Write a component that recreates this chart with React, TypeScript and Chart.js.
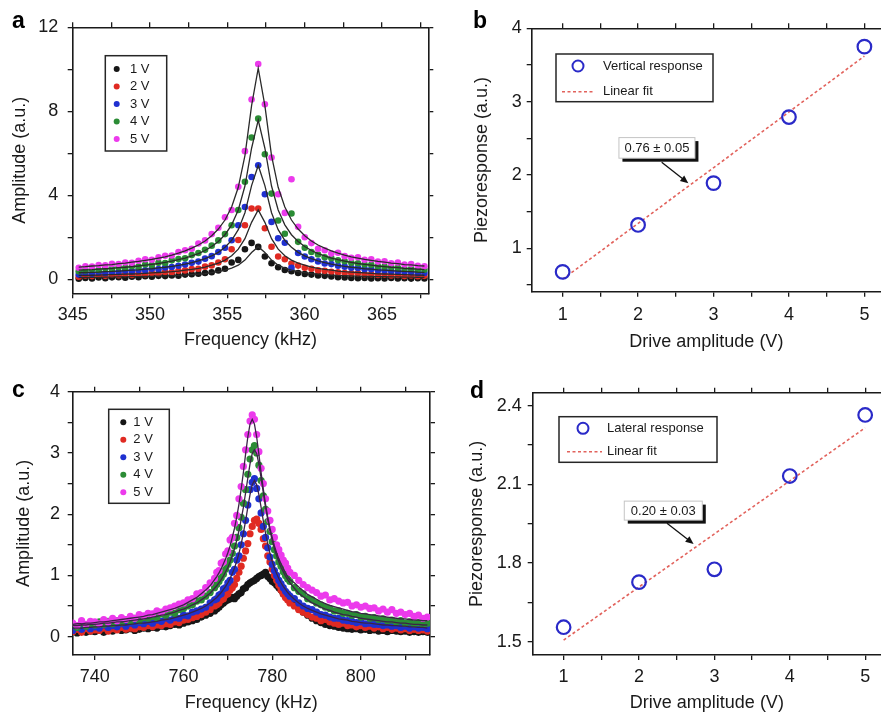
import React, { useEffect, useRef } from "react";
import { Chart, registerables } from "chart.js";

Chart.register(...registerables);

const FONT = "'Liberation Sans', Arial, Helvetica, sans-serif";
Chart.defaults.font.family = FONT;

const INK = "#1a1a1a";
const C_BLACK = "#161616";
const C_RED = "#e02a22";
const C_BLUE = "#1f30d0";
const C_GREEN = "#2b8c35";
const C_MAGENTA = "#ec3aec";
const C_CIRCLE = "#2a2ac8";
const C_FIT = "#e2625c";

// ---------------- Panel a: resonance near 357 kHz ----------------
const freqA = [345.39, 345.82, 346.25, 346.68, 347.11, 347.54, 347.97, 348.40, 348.83, 349.26, 349.69, 350.12, 350.55, 350.98, 351.41, 351.84, 352.27, 352.70, 353.13, 353.56, 353.99, 354.42, 354.85, 355.28, 355.71, 356.14, 356.57, 357.00, 357.43, 357.86, 358.29, 358.72, 359.15, 359.58, 360.01, 360.44, 360.87, 361.30, 361.73, 362.16, 362.59, 363.02, 363.45, 363.88, 364.31, 364.74, 365.17, 365.60, 366.03, 366.46, 366.89, 367.32, 367.75];

const ampA5V = [0.55, 0.62, 0.60, 0.68, 0.66, 0.73, 0.72, 0.80, 0.78, 0.88, 0.95, 0.93, 1.05, 1.12, 1.13, 1.30, 1.38, 1.45, 1.70, 1.85, 2.15, 2.45, 2.95, 3.30, 4.40, 6.10, 8.56, 10.25, 8.33, 5.80, 4.05, 3.16, 4.76, 2.50, 2.00, 1.72, 1.45, 1.38, 1.22, 1.26, 1.10, 1.02, 1.05, 0.93, 0.95, 0.84, 0.86, 0.76, 0.80, 0.70, 0.72, 0.64, 0.62];
const ampA4V = [0.38, 0.42, 0.47, 0.44, 0.52, 0.50, 0.57, 0.55, 0.62, 0.60, 0.70, 0.68, 0.78, 0.77, 0.90, 0.96, 1.00, 1.15, 1.25, 1.40, 1.60, 1.85, 2.15, 2.57, 3.30, 4.64, 6.75, 7.65, 5.95, 4.08, 2.80, 2.17, 3.13, 1.78, 1.50, 1.30, 1.18, 1.05, 1.00, 0.90, 0.86, 0.78, 0.76, 0.70, 0.69, 0.62, 0.60, 0.58, 0.55, 0.50, 0.50, 0.46, 0.45];
const ampA3V = [0.22, 0.30, 0.26, 0.33, 0.30, 0.36, 0.34, 0.40, 0.38, 0.44, 0.42, 0.50, 0.48, 0.56, 0.58, 0.64, 0.70, 0.78, 0.84, 0.98, 1.10, 1.30, 1.50, 1.86, 2.57, 3.44, 4.87, 5.43, 4.05, 2.73, 1.95, 1.74, 0.55, 1.25, 1.08, 0.95, 0.85, 0.75, 0.72, 0.64, 0.60, 0.55, 0.54, 0.48, 0.47, 0.42, 0.42, 0.38, 0.37, 0.34, 0.34, 0.30, 0.30];
const ampA2V = [0.12, 0.18, 0.15, 0.20, 0.16, 0.22, 0.19, 0.25, 0.20, 0.27, 0.24, 0.30, 0.28, 0.35, 0.33, 0.40, 0.42, 0.48, 0.50, 0.60, 0.66, 0.80, 0.95, 1.43, 1.87, 2.57, 3.37, 3.37, 2.43, 1.55, 1.08, 0.95, 0.75, 0.65, 0.55, 0.50, 0.42, 0.40, 0.36, 0.33, 0.30, 0.28, 0.28, 0.24, 0.24, 0.20, 0.22, 0.18, 0.20, 0.15, 0.18, 0.14, 0.16];
const ampA1V = [0.02, 0.06, 0.04, 0.08, 0.05, 0.09, 0.10, 0.07, 0.12, 0.10, 0.14, 0.12, 0.16, 0.15, 0.18, 0.17, 0.22, 0.24, 0.26, 0.30, 0.33, 0.42, 0.50, 0.80, 0.92, 1.43, 1.73, 1.54, 1.08, 0.76, 0.57, 0.44, 0.38, 0.30, 0.25, 0.22, 0.18, 0.16, 0.13, 0.10, 0.08, 0.06, 0.05, 0.06, 0.04, 0.05, 0.04, 0.06, 0.04, 0.05, 0.03, 0.05, 0.04];

const fitA5V = [0.58, 0.60, 0.63, 0.65, 0.68, 0.70, 0.74, 0.77, 0.81, 0.85, 0.90, 0.95, 1.01, 1.07, 1.15, 1.24, 1.35, 1.48, 1.63, 1.82, 2.07, 2.39, 2.82, 3.44, 4.38, 5.89, 8.27, 10.05, 8.27, 5.89, 4.38, 3.44, 2.82, 2.39, 2.07, 1.82, 1.63, 1.48, 1.35, 1.24, 1.15, 1.07, 1.01, 0.95, 0.90, 0.85, 0.81, 0.77, 0.74, 0.70, 0.68, 0.65, 0.63];
const fitA4V = [0.43, 0.45, 0.46, 0.48, 0.50, 0.52, 0.55, 0.57, 0.60, 0.63, 0.67, 0.71, 0.75, 0.80, 0.86, 0.93, 1.01, 1.11, 1.22, 1.37, 1.56, 1.80, 2.12, 2.59, 3.30, 4.44, 6.24, 7.58, 6.24, 4.44, 3.30, 2.59, 2.12, 1.80, 1.56, 1.37, 1.22, 1.11, 1.01, 0.93, 0.86, 0.80, 0.75, 0.71, 0.67, 0.63, 0.60, 0.57, 0.55, 0.52, 0.50, 0.48, 0.46];
const fitA3V = [0.31, 0.32, 0.33, 0.34, 0.36, 0.37, 0.39, 0.41, 0.43, 0.45, 0.48, 0.50, 0.54, 0.57, 0.61, 0.66, 0.72, 0.79, 0.87, 0.98, 1.11, 1.28, 1.52, 1.85, 2.36, 3.17, 4.46, 5.42, 4.46, 3.17, 2.36, 1.85, 1.52, 1.28, 1.11, 0.98, 0.87, 0.79, 0.72, 0.66, 0.61, 0.57, 0.54, 0.50, 0.48, 0.45, 0.43, 0.41, 0.39, 0.37, 0.36, 0.34, 0.33];
const fitA2V = [0.18, 0.18, 0.19, 0.20, 0.21, 0.22, 0.23, 0.24, 0.25, 0.26, 0.28, 0.30, 0.32, 0.34, 0.36, 0.39, 0.43, 0.47, 0.52, 0.58, 0.67, 0.77, 0.91, 1.12, 1.43, 1.93, 2.71, 3.30, 2.71, 1.93, 1.43, 1.12, 0.91, 0.77, 0.67, 0.58, 0.52, 0.47, 0.43, 0.39, 0.36, 0.34, 0.32, 0.30, 0.28, 0.26, 0.25, 0.24, 0.23, 0.22, 0.21, 0.20, 0.19];
const fitA1V = [0.08, 0.09, 0.09, 0.09, 0.10, 0.10, 0.11, 0.11, 0.12, 0.12, 0.13, 0.14, 0.15, 0.16, 0.17, 0.18, 0.20, 0.22, 0.24, 0.27, 0.31, 0.36, 0.43, 0.53, 0.67, 0.91, 1.27, 1.55, 1.27, 0.91, 0.67, 0.53, 0.43, 0.36, 0.31, 0.27, 0.24, 0.22, 0.20, 0.18, 0.17, 0.16, 0.15, 0.14, 0.13, 0.12, 0.12, 0.11, 0.11, 0.10, 0.10, 0.09, 0.09];

// ---------------- Panel c: resonance near 776 kHz ----------------
const freqC = [735, 736, 737, 738, 739, 740, 741, 742, 743, 744, 745, 746, 747, 748, 749, 750, 751, 752, 753, 754, 755, 756, 757, 758, 759, 760, 761, 762, 763, 764, 765, 766, 767,
  767.5, 768, 768.5, 769, 769.5, 770, 770.5, 771, 771.5, 772, 772.5, 773, 773.5, 774, 774.5, 775, 775.5, 776, 776.5, 777, 777.5, 778, 778.5, 779, 779.5, 780, 780.5, 781, 781.5, 782, 782.5, 783, 783.5, 784,
  785, 786, 787, 788, 789, 790, 791, 792, 793, 794, 795, 796, 797, 798, 799, 800, 801, 802, 803, 804, 805, 806, 807, 808, 809, 810, 811, 812, 813, 814, 815];

const ampC5V = [0.22, 0.18, 0.26, 0.20, 0.25, 0.24, 0.21, 0.28, 0.24, 0.30, 0.26, 0.31, 0.28, 0.33, 0.30, 0.36, 0.34, 0.38, 0.37, 0.42, 0.40, 0.45, 0.47, 0.50, 0.53, 0.55, 0.60, 0.62, 0.70, 0.72, 0.80, 0.88, 0.95,
  1.05, 1.08, 1.20, 1.22, 1.35, 1.40, 1.58, 1.62, 1.85, 1.98, 2.25, 2.45, 2.78, 3.05, 3.30, 3.52, 3.62, 3.55, 3.30, 3.02, 2.75, 2.50, 2.25, 2.05, 1.90, 1.75, 1.62, 1.50, 1.42, 1.33, 1.25, 1.20, 1.12, 1.05,
  1.00, 0.92, 0.85, 0.80, 0.76, 0.72, 0.66, 0.68, 0.60, 0.62, 0.58, 0.55, 0.56, 0.50, 0.52, 0.48, 0.50, 0.46, 0.47, 0.42, 0.45, 0.40, 0.44, 0.38, 0.40, 0.36, 0.38, 0.33, 0.35, 0.30, 0.32];
const ampC4V = [0.20, 0.15, 0.22, 0.17, 0.21, 0.19, 0.24, 0.20, 0.25, 0.21, 0.26, 0.23, 0.28, 0.25, 0.30, 0.26, 0.31, 0.30, 0.33, 0.31, 0.37, 0.35, 0.40, 0.38, 0.44, 0.46, 0.50, 0.52, 0.58, 0.60, 0.66, 0.72, 0.80,
  0.85, 0.90, 0.96, 1.02, 1.10, 1.18, 1.25, 1.36, 1.48, 1.62, 1.78, 1.95, 2.18, 2.40, 2.65, 2.90, 3.05, 3.12, 3.00, 2.80, 2.55, 2.30, 2.08, 1.88, 1.72, 1.55, 1.42, 1.32, 1.22, 1.15, 1.06, 1.00, 0.94, 0.90,
  0.80, 0.74, 0.70, 0.62, 0.60, 0.55, 0.52, 0.48, 0.46, 0.42, 0.42, 0.38, 0.38, 0.35, 0.36, 0.32, 0.33, 0.30, 0.31, 0.28, 0.29, 0.26, 0.27, 0.24, 0.26, 0.22, 0.24, 0.21, 0.23, 0.20, 0.22];
const ampC3V = [0.10, 0.15, 0.12, 0.17, 0.13, 0.16, 0.14, 0.19, 0.15, 0.18, 0.16, 0.21, 0.17, 0.22, 0.19, 0.23, 0.21, 0.25, 0.22, 0.27, 0.25, 0.30, 0.27, 0.31, 0.30, 0.35, 0.34, 0.40, 0.42, 0.45, 0.48, 0.55, 0.60,
  0.62, 0.68, 0.70, 0.78, 0.80, 0.88, 0.92, 1.05, 1.10, 1.25, 1.32, 1.50, 1.68, 1.90, 2.15, 2.40, 2.52, 2.58, 2.42, 2.25, 2.02, 1.80, 1.62, 1.45, 1.30, 1.18, 1.08, 1.00, 0.92, 0.86, 0.80, 0.74, 0.70, 0.66,
  0.62, 0.55, 0.50, 0.46, 0.44, 0.40, 0.36, 0.35, 0.32, 0.30, 0.30, 0.27, 0.26, 0.25, 0.23, 0.24, 0.21, 0.22, 0.20, 0.20, 0.18, 0.19, 0.17, 0.18, 0.15, 0.17, 0.14, 0.16, 0.14, 0.15, 0.13];
const ampC2V = [0.08, 0.12, 0.07, 0.13, 0.09, 0.11, 0.10, 0.14, 0.09, 0.13, 0.11, 0.15, 0.12, 0.14, 0.13, 0.16, 0.15, 0.18, 0.16, 0.19, 0.18, 0.21, 0.20, 0.24, 0.23, 0.27, 0.28, 0.31, 0.33, 0.36, 0.40, 0.44, 0.50,
  0.52, 0.55, 0.60, 0.62, 0.68, 0.70, 0.76, 0.80, 0.85, 0.95, 1.05, 1.15, 1.28, 1.40, 1.52, 1.68, 1.80, 1.90, 1.92, 1.85, 1.75, 1.60, 1.48, 1.32, 1.22, 1.10, 1.00, 0.92, 0.84, 0.76, 0.70, 0.64, 0.60, 0.55,
  0.50, 0.44, 0.40, 0.36, 0.32, 0.30, 0.26, 0.28, 0.24, 0.22, 0.20, 0.22, 0.18, 0.19, 0.16, 0.18, 0.15, 0.17, 0.14, 0.16, 0.13, 0.15, 0.12, 0.14, 0.11, 0.13, 0.10, 0.12, 0.10, 0.11, 0.09];
const ampC1V = [0.08, 0.06, 0.10, 0.07, 0.09, 0.08, 0.11, 0.07, 0.10, 0.09, 0.12, 0.10, 0.11, 0.13, 0.10, 0.12, 0.14, 0.13, 0.15, 0.14, 0.17, 0.16, 0.18, 0.20, 0.19, 0.22, 0.24, 0.26, 0.28, 0.32, 0.35, 0.38, 0.42,
  0.45, 0.48, 0.52, 0.55, 0.58, 0.60, 0.62, 0.64, 0.62, 0.66, 0.70, 0.72, 0.78, 0.80, 0.85, 0.88, 0.90, 0.92, 0.95, 0.98, 1.00, 1.02, 1.05, 0.98, 0.95, 0.90, 0.88, 0.84, 0.80, 0.76, 0.70, 0.66, 0.62, 0.58,
  0.52, 0.46, 0.40, 0.35, 0.30, 0.26, 0.23, 0.20, 0.18, 0.17, 0.15, 0.14, 0.13, 0.12, 0.13, 0.11, 0.12, 0.10, 0.11, 0.09, 0.10, 0.08, 0.10, 0.09, 0.08, 0.09, 0.07, 0.08, 0.07, 0.08, 0.07];

const fitC5V = [0.20, 0.21, 0.21, 0.22, 0.22, 0.23, 0.24, 0.24, 0.25, 0.26, 0.27, 0.28, 0.29, 0.30, 0.31, 0.32, 0.33, 0.35, 0.36, 0.38, 0.40, 0.42, 0.44, 0.46, 0.49, 0.52, 0.56, 0.60, 0.64, 0.70, 0.76, 0.83, 0.93,
  0.98, 1.04, 1.11, 1.19, 1.27, 1.37, 1.48, 1.62, 1.77, 1.95, 2.16, 2.41, 2.68, 2.98, 3.26, 3.47, 3.55, 3.47, 3.26, 2.98, 2.68, 2.41, 2.16, 1.95, 1.77, 1.62, 1.48, 1.37, 1.27, 1.19, 1.11, 1.04, 0.98, 0.93,
  0.88, 0.81, 0.75, 0.69, 0.65, 0.61, 0.57, 0.54, 0.51, 0.49, 0.47, 0.45, 0.43, 0.41, 0.40, 0.38, 0.37, 0.36, 0.35, 0.34, 0.33, 0.32, 0.31, 0.30, 0.29, 0.29, 0.28, 0.27, 0.27, 0.26, 0.26];
const fitC4V = [0.18, 0.18, 0.19, 0.19, 0.20, 0.20, 0.21, 0.22, 0.22, 0.23, 0.24, 0.24, 0.25, 0.26, 0.27, 0.28, 0.29, 0.30, 0.32, 0.33, 0.35, 0.36, 0.38, 0.40, 0.43, 0.45, 0.48, 0.52, 0.55, 0.60, 0.65, 0.71, 0.79,
  0.83, 0.88, 0.93, 0.99, 1.06, 1.13, 1.22, 1.32, 1.44, 1.57, 1.73, 1.91, 2.11, 2.35, 2.59, 2.82, 2.99, 3.05, 2.99, 2.82, 2.59, 2.35, 2.11, 1.91, 1.73, 1.57, 1.44, 1.32, 1.22, 1.13, 1.06, 0.99, 0.93, 0.88,
  0.79, 0.71, 0.65, 0.60, 0.55, 0.52, 0.48, 0.45, 0.43, 0.40, 0.38, 0.36, 0.35, 0.33, 0.32, 0.30, 0.29, 0.28, 0.27, 0.26, 0.25, 0.24, 0.24, 0.23, 0.22, 0.22, 0.21, 0.20, 0.20, 0.19, 0.19];
const fitC3V = [0.14, 0.14, 0.14, 0.15, 0.15, 0.16, 0.16, 0.17, 0.17, 0.18, 0.18, 0.19, 0.19, 0.20, 0.21, 0.22, 0.22, 0.23, 0.24, 0.25, 0.27, 0.28, 0.29, 0.31, 0.33, 0.35, 0.37, 0.40, 0.43, 0.46, 0.50, 0.55, 0.61,
  0.64, 0.68, 0.72, 0.77, 0.82, 0.88, 0.95, 1.03, 1.12, 1.23, 1.36, 1.51, 1.69, 1.89, 2.11, 2.32, 2.48, 2.55, 2.48, 2.32, 2.11, 1.89, 1.69, 1.51, 1.36, 1.23, 1.12, 1.03, 0.95, 0.88, 0.82, 0.77, 0.72, 0.68,
  0.61, 0.55, 0.50, 0.46, 0.43, 0.40, 0.37, 0.35, 0.33, 0.31, 0.29, 0.28, 0.27, 0.25, 0.24, 0.23, 0.22, 0.22, 0.21, 0.20, 0.19, 0.19, 0.18, 0.18, 0.17, 0.17, 0.16, 0.16, 0.15, 0.15, 0.14];

// ---------------- Panels b and d ----------------
const driveV = [1, 2, 3, 4, 5];
const verticalResp = [0.68, 1.32, 1.89, 2.79, 3.75];
const lateralResp = [1.555, 1.727, 1.776, 2.132, 2.365];
const fitDrive = [1, 5];
const verticalFit = [0.58, 3.62];
const lateralFit = [1.506, 2.316];

const seriesLabels = ["1 V", "2 V", "3 V", "4 V", "5 V"];
const seriesColors = [C_BLACK, C_RED, C_BLUE, C_GREEN, C_MAGENTA];

function pts(xs: number[], ys: number[]) {
  return xs.map((x, i) => ({ x, y: ys[i] }));
}

type AxisSpec = { min: number; max: number; step: number; label: (v: number) => string; title: string };
type FrameSpec = {
  left: number; top: number; right: number; bottom: number;
  yTitlePad: number; yTickPad: number; xTickPad: number; xTitlePad: number; rightAxis: boolean;
};

function buildScales(x: AxisSpec, y: AxisSpec, f: FrameSpec) {
  const grid = { display: true, drawOnChartArea: false, drawTicks: true, tickLength: 5, color: INK, lineWidth: 1.3 };
  const border = { display: true, color: INK, width: 1.6 };
  const font = { family: FONT, size: 18 };
  const scales: any = {
    x: {
      type: "linear", position: "bottom", min: x.min, max: x.max, grid, border,
      ticks: { stepSize: x.step, includeBounds: false, autoSkip: false, maxRotation: 0, minRotation: 0, color: INK, font, padding: f.xTickPad, callback: (v: any) => x.label(Number(v)) },
      title: { display: true, text: x.title, color: INK, font, padding: { top: 0, bottom: f.xTitlePad } },
      afterFit: (s: any) => { s.height = f.bottom; },
    },
    y: {
      type: "linear", position: "left", min: y.min, max: y.max, grid, border,
      ticks: { stepSize: y.step, includeBounds: false, autoSkip: false, color: INK, font, padding: f.yTickPad, callback: (v: any) => y.label(Number(v)) },
      title: { display: true, text: y.title, color: INK, font, padding: { top: f.yTitlePad, bottom: 0 } },
      afterFit: (s: any) => { s.width = f.left; },
    },
    x2: {
      type: "linear", position: "top", min: x.min, max: x.max, grid, border,
      ticks: { display: false, stepSize: x.step, includeBounds: false, autoSkip: false },
      afterFit: (s: any) => { s.height = f.top; },
    },
  };
  if (f.rightAxis) {
    scales.y2 = {
      type: "linear", position: "right", min: y.min, max: y.max, grid, border,
      ticks: { display: false, stepSize: y.step, includeBounds: false, autoSkip: false },
      afterFit: (s: any) => { s.width = f.right; },
    };
  }
  return scales;
}

type DotLegend = { kind: "dots"; x: number; y: number; w: number; h: number; row0: number; step: number; dotX: number; textX: number };
type FitLegend = { kind: "fit"; x: number; y: number; w: number; h: number; markerX: number; row1: number; row2: number; lineX1: number; lineX2: number; textX: number };
type Note = { text: string; cx: number; cy: number; w: number; h: number; fx: number; fy: number; tx: number; ty: number };

function makeDecor(letter: { t: string; x: number; y: number }, legend: DotLegend | FitLegend, note?: Note) {
  return {
    id: "decor",
    afterDraw(chart: any) {
      const ctx: CanvasRenderingContext2D = chart.ctx;
      const ds = chart.data.datasets;
      ctx.save();
      ctx.font = `bold 23px ${FONT}`;
      ctx.fillStyle = "#000";
      ctx.textAlign = "left";
      ctx.textBaseline = "alphabetic";
      ctx.fillText(letter.t, letter.x, letter.y);

      ctx.fillStyle = "#fff";
      ctx.fillRect(legend.x, legend.y, legend.w, legend.h);
      ctx.strokeStyle = "#262626";
      ctx.lineWidth = 1.5;
      ctx.strokeRect(legend.x, legend.y, legend.w, legend.h);
      ctx.font = `13px ${FONT}`;
      ctx.textBaseline = "middle";
      if (legend.kind === "dots") {
        seriesLabels.forEach((lab, i) => {
          const d = ds.find((q: any) => q.label === lab);
          const yy = legend.row0 + i * legend.step;
          ctx.fillStyle = d ? d.backgroundColor : "#000";
          ctx.beginPath();
          ctx.arc(legend.dotX, yy, 3, 0, Math.PI * 2);
          ctx.fill();
          ctx.fillStyle = INK;
          ctx.fillText(lab, legend.textX, yy);
        });
      } else {
        const circ = ds.find((q: any) => !q.showLine);
        const line = ds.find((q: any) => q.showLine);
        ctx.strokeStyle = circ.pointBorderColor;
        ctx.lineWidth = 2;
        ctx.beginPath();
        ctx.arc(legend.markerX, legend.row1, 5.5, 0, Math.PI * 2);
        ctx.stroke();
        ctx.fillStyle = INK;
        ctx.fillText(circ.label, legend.textX, legend.row1);
        ctx.strokeStyle = line.borderColor;
        ctx.lineWidth = 1.6;
        ctx.setLineDash(line.borderDash);
        ctx.beginPath();
        ctx.moveTo(legend.lineX1, legend.row2);
        ctx.lineTo(legend.lineX2, legend.row2);
        ctx.stroke();
        ctx.setLineDash([]);
        ctx.fillText(line.label, legend.textX, legend.row2);
      }

      if (note) {
        const xs = chart.scales.x;
        const ys = chart.scales.y;
        const cx = xs.getPixelForValue(note.cx);
        const cy = ys.getPixelForValue(note.cy);
        const bx = cx - note.w / 2;
        const by = cy - note.h / 2;
        ctx.fillStyle = "#111";
        ctx.fillRect(bx + 3.5, by + 3.5, note.w, note.h);
        ctx.fillStyle = "#fff";
        ctx.fillRect(bx, by, note.w, note.h);
        ctx.strokeStyle = "#c4c4c4";
        ctx.lineWidth = 1;
        ctx.strokeRect(bx, by, note.w, note.h);
        ctx.fillStyle = INK;
        ctx.textAlign = "center";
        ctx.fillText(note.text, cx, cy + 0.5);
        const x1 = xs.getPixelForValue(note.fx);
        const y1 = ys.getPixelForValue(note.fy);
        const x2 = xs.getPixelForValue(note.tx);
        const y2 = ys.getPixelForValue(note.ty);
        const ang = Math.atan2(y2 - y1, x2 - x1);
        ctx.strokeStyle = "#111";
        ctx.lineWidth = 1.3;
        ctx.beginPath();
        ctx.moveTo(x1, y1);
        ctx.lineTo(x2 - 6 * Math.cos(ang), y2 - 6 * Math.sin(ang));
        ctx.stroke();
        ctx.fillStyle = "#111";
        ctx.beginPath();
        ctx.moveTo(x2, y2);
        ctx.lineTo(x2 - 8 * Math.cos(ang) + 3.5 * Math.sin(ang), y2 - 8 * Math.sin(ang) - 3.5 * Math.cos(ang));
        ctx.lineTo(x2 - 8 * Math.cos(ang) - 3.5 * Math.sin(ang), y2 - 8 * Math.sin(ang) + 3.5 * Math.cos(ang));
        ctx.closePath();
        ctx.fill();
      }
      ctx.restore();
    },
  };
}

function baseOptions(scales: any) {
  return {
    responsive: false,
    animation: false as const,
    devicePixelRatio: 1,
    events: [] as any[],
    layout: { autoPadding: false, padding: 0 },
    plugins: { legend: { display: false }, tooltip: { enabled: false }, title: { display: false } },
    scales,
  };
}

function resonanceDatasets(freq: number[], amps: number[][], fits: number[][], fitColor: string, radius: number) {
  const fitSets = fits.map((f) => ({
    label: "", data: pts(freq, f), showLine: true, borderColor: fitColor, borderWidth: 1.3,
    pointRadius: 0, tension: 0, fill: false,
  }));
  // draw 5 V on top, 1 V at the bottom
  const dotSets = [4, 3, 2, 1, 0].map((i) => ({
    label: seriesLabels[i], data: pts(freq, amps[i]), showLine: false,
    backgroundColor: seriesColors[i], borderColor: seriesColors[i],
    pointRadius: radius, pointBorderWidth: 0, pointHoverRadius: radius,
  }));
  return [...fitSets, ...dotSets];
}

function configA() {
  const scales = buildScales(
    { min: 345, max: 368, step: 2.5, label: (v) => (Math.abs(v % 5) < 1e-6 ? String(v) : ""), title: "Frequency (kHz)" },
    { min: -0.67, max: 12, step: 2, label: (v) => (Math.abs(v % 4) < 1e-6 ? String(v) : ""), title: "Amplitude (a.u.)" },
    { left: 72.7, top: 27.3, right: 11.7, bottom: 66.7, yTitlePad: 9.2, yTickPad: 9.4, xTickPad: 5.9, xTitlePad: 9.2, rightAxis: true }
  );
  return {
    type: "scatter",
    data: {
      datasets: resonanceDatasets(freqA, [ampA1V, ampA2V, ampA3V, ampA4V, ampA5V], [fitA5V, fitA4V, fitA3V, fitA2V, fitA1V], "#2a2a2a", 3.3),
    },
    options: baseOptions(scales),
    plugins: [makeDecor({ t: "a", x: 12, y: 28 }, { kind: "dots", x: 105.3, y: 55.7, w: 61.4, h: 95.3, row0: 69, step: 17.5, dotX: 116.7, textX: 130 })],
  };
}

function configC() {
  const scales = buildScales(
    { min: 735, max: 815.6, step: 10, label: (v) => (Math.abs(v % 20) < 1e-6 ? String(v) : ""), title: "Frequency (kHz)" },
    { min: -0.3, max: 4, step: 0.5, label: (v) => (Math.abs(v - Math.round(v)) < 1e-6 ? String(Math.round(v)) : ""), title: "Amplitude (a.u.)" },
    { left: 72.7, top: 31.7, right: 10, bottom: 59, yTitlePad: 13.2, yTickPad: 7.7, xTickPad: 5.9, xTitlePad: 0, rightAxis: true }
  );
  return {
    type: "scatter",
    data: {
      datasets: resonanceDatasets(freqC, [ampC1V, ampC2V, ampC3V, ampC4V, ampC5V], [fitC5V, fitC4V, fitC3V], "#3b2346", 3.6),
    },
    options: baseOptions(scales),
    plugins: [makeDecor({ t: "c", x: 12, y: 37 }, { kind: "dots", x: 108.7, y: 49.3, w: 60.6, h: 94, row0: 62.3, step: 17.5, dotX: 123.3, textX: 133.3 })],
  };
}

function responseDatasets(label: string, values: number[], fit: number[]) {
  return [
    {
      label, data: pts(driveV, values), showLine: false,
      pointRadius: 6.8, pointHoverRadius: 6.8, pointBorderWidth: 2.2,
      pointBorderColor: C_CIRCLE, pointBackgroundColor: "rgba(0,0,0,0)",
      borderColor: C_CIRCLE, backgroundColor: "rgba(0,0,0,0)",
    },
    {
      label: "Linear fit", data: pts(fitDrive, fit), showLine: true,
      borderColor: C_FIT, borderWidth: 1.6, borderDash: [3, 2.5], pointRadius: 0, tension: 0, fill: false,
    },
  ];
}

function configB() {
  const scales = buildScales(
    { min: 0.59, max: 5.22, step: 0.5, label: (v) => (Math.abs(v - Math.round(v)) < 1e-6 ? String(Math.round(v)) : ""), title: "Drive amplitude (V)" },
    { min: 0.41, max: 4, step: 0.5, label: (v) => (Math.abs(v - Math.round(v)) < 1e-6 ? String(Math.round(v)) : ""), title: "Piezoresponse (a.u.)" },
    { left: 91.7, top: 28.3, right: 0, bottom: 68.3, yTitlePad: 30.9, yTickPad: 5, xTickPad: 7.5, xTitlePad: 7.5, rightAxis: false }
  );
  return {
    type: "scatter",
    data: { datasets: responseDatasets("Vertical response", verticalResp, verticalFit) },
    options: baseOptions(scales),
    plugins: [makeDecor(
      { t: "b", x: 33, y: 28 },
      { kind: "fit", x: 116, y: 54, w: 157, h: 47.7, markerX: 138, row1: 66, row2: 91.7, lineX1: 122, lineX2: 155, textX: 163 },
      { text: "0.76 \u00b1 0.05", cx: 2.25, cy: 2.37, w: 76, h: 20.6, fx: 2.313, fy: 2.174, tx: 2.666, ty: 1.887 }
    )],
  };
}

function configD() {
  const scales = buildScales(
    { min: 0.59, max: 5.21, step: 0.5, label: (v) => (Math.abs(v - Math.round(v)) < 1e-6 ? String(Math.round(v)) : ""), title: "Drive amplitude (V)" },
    {
      min: 1.449, max: 2.45, step: 0.15,
      label: (v) => { const r = (v - 1.5) / 0.3; return Math.abs(r - Math.round(r)) < 1e-4 ? v.toFixed(1) : ""; },
      title: "Piezoresponse (a.u.)",
    },
    { left: 92.7, top: 32.7, right: 0, bottom: 59, yTitlePad: 25.9, yTickPad: 6, xTickPad: 5.9, xTitlePad: 0, rightAxis: false }
  );
  return {
    type: "scatter",
    data: { datasets: responseDatasets("Lateral response", lateralResp, lateralFit) },
    options: baseOptions(scales),
    plugins: [makeDecor(
      { t: "d", x: 30, y: 38 },
      { kind: "fit", x: 119, y: 56.7, w: 158, h: 45.6, markerX: 143, row1: 68.3, row2: 91.7, lineX1: 127, lineX2: 162, textX: 167 },
      { text: "0.20 \u00b1 0.03", cx: 2.322, cy: 2.0, w: 78, h: 19, fx: 2.371, fy: 1.952, tx: 2.724, ty: 1.873 }
    )],
  };
}

function Panel({ make, left, top, width, height }: { make: () => any; left: number; top: number; width: number; height: number }) {
  const ref = useRef<HTMLCanvasElement | null>(null);
  useEffect(() => {
    if (!ref.current) return;
    const chart = new Chart(ref.current, make());
    return () => chart.destroy();
  }, [make]);
  return (
    <canvas
      ref={ref}
      width={width}
      height={height}
      style={{ position: "absolute", left, top, width, height, display: "block" }}
    />
  );
}

export default function App() {
  useEffect(() => {
    document.body.style.margin = "0";
  }, []);
  return (
    <div style={{ position: "absolute", left: 0, top: 0, width: 881, height: 714, overflow: "hidden", background: "#fff" }}>
      <Panel make={configA} left={0} top={0} width={440} height={360} />
      <Panel make={configB} left={440} top={0} width={441} height={360} />
      <Panel make={configC} left={0} top={360} width={440} height={354} />
      <Panel make={configD} left={440} top={360} width={441} height={354} />
    </div>
  );
}
